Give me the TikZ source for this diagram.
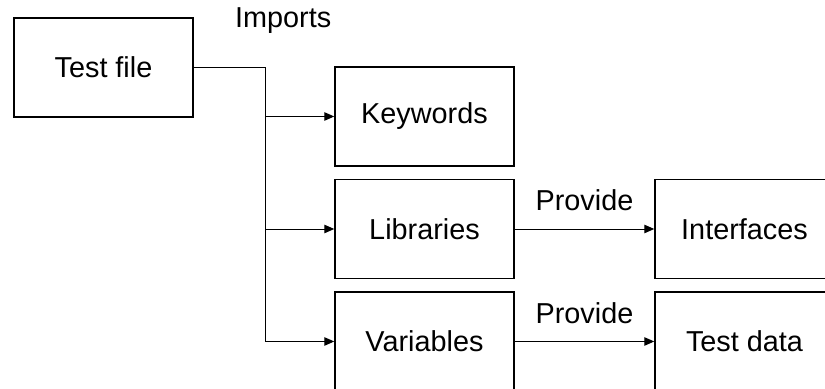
\documentclass[tikz,border=0pt]{standalone}
\usepackage{fontspec}
\setmainfont{Liberation Sans}
\usetikzlibrary{arrows.meta}

\tikzset{
  box/.style={draw, line width=1.1pt, minimum width=4.475cm, minimum height=2.475cm,
    font=\fontsize{20.5}{24}\selectfont},
  lbl/.style={font=\fontsize{20.5}{24}\selectfont},
  link/.style={line width=0.7pt},
  feed/.style={link, -{Triangle[length=7pt, width=6pt]}}
}

\begin{document}
\begin{tikzpicture}

\useasboundingbox (0,0) rectangle (20.625,9.725);
\clip (0,0) rectangle (20.625,9.725);

\node[box] (testfile) at (2.5875,8.0375) {Test file};
\node[box] (keywords) at (10.6125,6.8125) {Keywords};
\node[box] (libraries) at (10.6125,4.0) {Libraries};
\node[box] (variables) at (10.6125,1.1875) {Variables};
\node[box] (interfaces) at (18.6125,4.0) {Interfaces};
\node[box] (testdata) at (18.6125,1.1875) {Test data};

\node[lbl, anchor=base] (imports) at (7.08,9.025) {Imports};

% trunk from the test file down to the three imported boxes
\coordinate (split) at (6.625,8.0375);
\draw[link] (testfile.east) -- (split) -- (split |- variables.west);
\draw[feed] (split |- keywords.west) -- (keywords.west);
\draw[feed] (split |- libraries.west) -- (libraries.west);
\draw[feed] (split |- variables.west) -- (variables.west);

\draw[feed] (libraries.east) -- node[lbl, midway, above=0.32cm] (provide1) {Provide} (interfaces.west);
\draw[feed] (variables.east) -- node[lbl, midway, above=0.32cm] (provide2) {Provide} (testdata.west);

\end{tikzpicture}
\end{document}
